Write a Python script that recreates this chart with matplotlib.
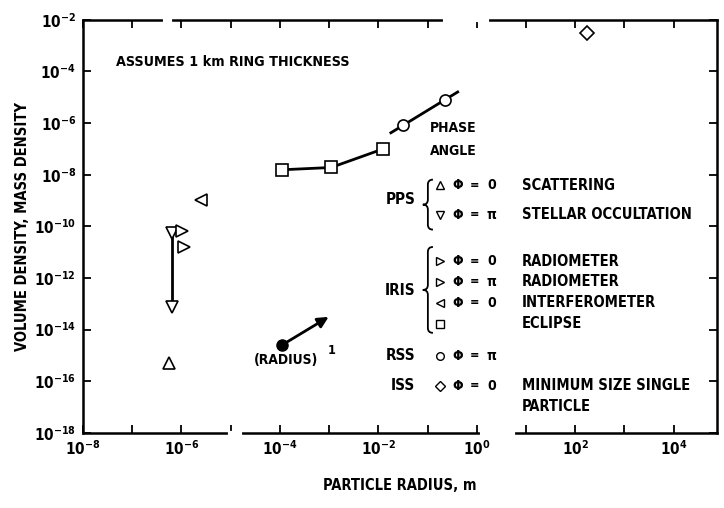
import numpy as np
import matplotlib
matplotlib.use('Agg')
import matplotlib.pyplot as plt
from matplotlib.path import Path
from matplotlib.patches import PathPatch
from matplotlib.ticker import FixedLocator, FuncFormatter, NullLocator

plt.rcParams['font.family'] = ['Liberation Sans Narrow', 'DejaVu Sans']
plt.rcParams['font.weight'] = 'bold'
plt.rcParams['font.stretch'] = 'condensed'

# data (particle radius in m, density)
pps0_x = [5.5e-7]
pps0_y = [5.0e-16]
ppspi_x = [6.3e-7, 6.3e-7]
ppspi_y = [5.5e-11, 7.6e-14]
rad0_x = [1.05e-6]
rad0_y = [6.6e-11]
radpi_x = [1.15e-6]
radpi_y = [1.6e-11]
intf_x = [2.5e-6]
intf_y = [1.05e-9]
ecl_x = [1.1e-4, 1.1e-3, 1.26e-2]
ecl_y = [1.55e-8, 1.9e-8, 1.0e-7]
rss_x = [0.032, 0.226]
rss_y = [8.5e-7, 7.9e-6]
rss_line_x = [0.018, 0.41]
rss_line_y = [4.2e-7, 1.6e-5]
iss_x = [174]
iss_y = [3.2e-3]
slope_start = (1.1e-4, 2.5e-15)
slope_end = (9.8e-4, 3.1e-14)

x_decades = list(range(-8, 5))
y_decades = list(range(-18, -1, 2))

groups = ['PPS', 'IRIS', 'RSS', 'ISS']
legend_markers = ['^', 'v', '>', '>', '<', 's', 'o', 'D']
legend_phi = ['0', 'π', '0', 'π', '0', '', 'π', '0']
legend_desc = ['SCATTERING', 'STELLAR OCCULTATION', 'RADIOMETER', 'RADIOMETER',
               'INTERFEROMETER', 'ECLIPSE', '', 'MINIMUM SIZE SINGLE']
legend_extra = 'PARTICLE'

fig = plt.figure(figsize=(7.24, 5.08), dpi=100)
ax = fig.add_axes([0.1146, 0.148, 0.8757, 0.813])
ax.set_xscale('log')
ax.set_yscale('log')
ax.set_xlim(1e-8, 10 ** 4.88)
ax.set_ylim(1e-18, 1e-2)

mk = dict(color='black', markerfacecolor='white', markeredgewidth=1.2, linestyle='none', ms=8, zorder=4)
ax.plot(pps0_x, pps0_y, marker='^', **mk)
ax.plot(ppspi_x, ppspi_y, color='black', lw=2, zorder=3)
ax.plot(ppspi_x, ppspi_y, marker='v', **mk)
ax.plot(rad0_x, rad0_y, marker='>', **mk)
ax.plot(radpi_x, radpi_y, marker='>', **mk)
ax.plot(intf_x, intf_y, marker='<', **mk)
ax.plot(ecl_x, ecl_y, color='black', lw=2, zorder=3)
ax.plot(ecl_x, ecl_y, marker='s', **mk)
ax.plot(rss_line_x, rss_line_y, color='black', lw=2, zorder=3)
ax.plot(rss_x, rss_y, marker='o', **mk)
ax.plot(iss_x, iss_y, marker='D', clip_on=False, **{**mk, 'ms': 7})

ax.plot([slope_start[0]], [slope_start[1]], 'o', color='black', ms=8, zorder=4)
ax.annotate('', xy=slope_end, xytext=slope_start,
            arrowprops=dict(arrowstyle='-|>', lw=2, color='black', mutation_scale=16, shrinkA=0, shrinkB=0))
ax.text(3e-5, 6.5e-16, '(RADIUS)', fontsize=10, va='center', ha='left')
ax.text(9.5e-4, 1.6e-15, '1', fontsize=9, va='center', ha='left')

ax.text(0.052, 0.898, 'ASSUMES 1 km RING THICKNESS', transform=ax.transAxes, fontsize=10.3, va='center')

# axis ticks and labels
ax.xaxis.set_major_locator(FixedLocator([10.0 ** d for d in x_decades]))
ax.xaxis.set_minor_locator(NullLocator())
ax.yaxis.set_major_locator(FixedLocator([10.0 ** d for d in y_decades]))
ax.yaxis.set_minor_locator(NullLocator())

def dec_label(v, pos):
    e = int(round(np.log10(v)))
    if e % 2:
        return ''
    return '$\\mathregular{10^{%d}}$' % e

ax.xaxis.set_major_formatter(FuncFormatter(dec_label))
ax.yaxis.set_major_formatter(FuncFormatter(dec_label))
ax.tick_params(axis='both', which='major', direction='in', top=True, right=True,
               length=6, width=1.3, labelsize=11, pad=5)
for s in ax.spines.values():
    s.set_linewidth(1.8)

ax.set_xlabel('PARTICLE RADIUS, m', fontsize=10.5, fontweight='bold', labelpad=14)
ax.set_ylabel('VOLUME DENSITY, MASS DENSITY', fontsize=10.5, fontweight='bold', labelpad=3)

# breaks in the printed frame
for x0, x1, yy in [(0.232, 0.248, 0.0), (0.629, 0.678, 0.0), (0.571, 0.637, 1.0), (0.129, 0.137, 1.0)]:
    ax.plot([x0, x1], [yy, yy], color='white', lw=3, transform=ax.transAxes, clip_on=False, zorder=5)

# legend block drawn in the axes
tr = ax.transAxes
ax.text(0.547, 0.738, 'PHASE', transform=tr, fontsize=10, va='center')
ax.text(0.547, 0.683, 'ANGLE', transform=tr, fontsize=10, va='center')

row_y = [0.600, 0.528, 0.416, 0.366, 0.315, 0.264, 0.186, 0.114]
group_y = [0.564, 0.344, 0.186, 0.114]
for g, gy in zip(groups, group_y):
    ax.text(0.524, gy, g, transform=tr, fontsize=11, va='center', ha='right')

for m, phi, desc, ry in zip(legend_markers, legend_phi, legend_desc, row_y):
    ax.plot([0.563], [ry], marker=m, color='black', markerfacecolor='white', ms=5.5,
            markeredgewidth=1.0, transform=tr, clip_on=False, zorder=4)
    if phi:
        ax.text(0.591, ry, 'Φ', transform=tr, fontsize=10, va='center', ha='center')
        ax.text(0.617, ry, '=', transform=tr, fontsize=9, va='center', ha='center')
        ax.text(0.645, ry, phi, transform=tr, fontsize=10, va='center', ha='center')
    if desc:
        ax.text(0.692, ry, desc, transform=tr, fontsize=10.5, va='center')
ax.text(0.692, 0.063, legend_extra, transform=tr, fontsize=10.5, va='center')

def brace(x, y0, y1, w, d):
    ym = (y0 + y1) / 2
    verts = [(x + w, y1), (x, y1), (x, y1 - d), (x, ym + d), (x, ym), (x - w, ym),
             (x, ym), (x, ym - d), (x, y0 + d), (x, y0), (x + w, y0)]
    codes = [Path.MOVETO, Path.CURVE3, Path.CURVE3, Path.LINETO, Path.CURVE3, Path.CURVE3,
             Path.CURVE3, Path.CURVE3, Path.LINETO, Path.CURVE3, Path.CURVE3]
    ax.add_patch(PathPatch(Path(verts, codes), transform=tr, fill=False, lw=1.3, clip_on=False))

brace(0.544, 0.492, 0.613, 0.008, 0.012)
brace(0.544, 0.242, 0.450, 0.008, 0.012)

fig.savefig('out.png', dpi=100)
